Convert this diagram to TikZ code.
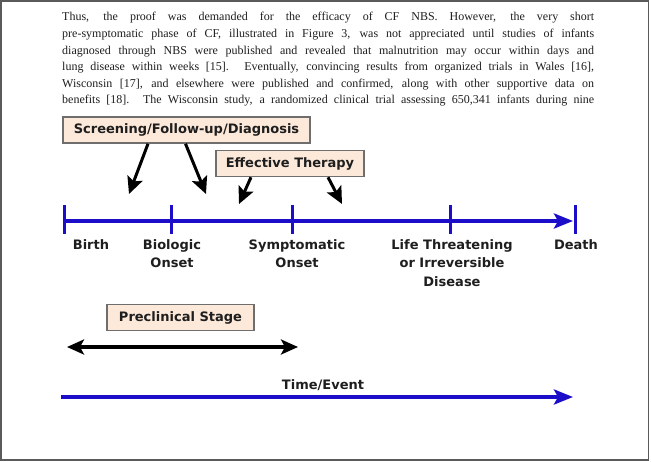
\documentclass[tikz,border=0pt]{standalone}
\usepackage{fontspec}
\setmainfont{Liberation Serif}
\newfontfamily\lblfont{DejaVu Sans}
\usetikzlibrary{arrows.meta}
\definecolor{tlblue}{RGB}{28,14,200}
\definecolor{peach}{RGB}{253,233,217}
\definecolor{boxedge}{RGB}{110,110,110}
\definecolor{txtgray}{RGB}{30,30,30}
\definecolor{framegray}{RGB}{90,90,90}
\begin{document}
\begin{tikzpicture}[x=1pt,y=-1pt,
  labelbox/.style={draw=boxedge, line width=1.5pt, fill=peach, minimum height=26pt, inner sep=0pt,
    font=\lblfont\bfseries\fontsize{13}{15}\selectfont, text=txtgray},
  tllabel/.style={font=\lblfont\bfseries\fontsize{13}{18.5}\selectfont, align=center, anchor=north,
    inner sep=0pt, text=txtgray},
  bodyline/.style={anchor=west, inner sep=0pt, font=\fontsize{12}{14}\selectfont, text=txtgray},
  blackarrow/.style={line width=3pt, -{Stealth[length=17pt,width=16pt,inset=3.5pt]}},
  tick/.style={tlblue, line width=3pt},
  bluearrow/.style={tlblue, line width=4pt, -{Stealth[length=19pt,width=15pt,inset=4pt]}},
  spanarrow/.style={line width=4pt, {Stealth[length=17pt,width=15pt,inset=4pt]}-{Stealth[length=17pt,width=15pt,inset=4pt]}}
]
\useasboundingbox (0,0) rectangle (651,461);
\draw[framegray, line width=1.5pt] (1,1) rectangle (648.5,460);

% body text
\node[bodyline] (t1) at (62,18) {\makebox[532pt][s]{Thus, the proof was demanded for the efficacy of CF NBS. However, the very short}};
\node[bodyline] (t2) at (62,34.6) {\makebox[532pt][s]{pre-symptomatic phase of CF, illustrated in Figure 3, was not appreciated until studies of infants}};
\node[bodyline] (t3) at (62,51.2) {\makebox[532pt][s]{diagnosed through NBS were published and revealed that malnutrition may occur within days and}};
\node[bodyline] (t4) at (62,67.8) {\makebox[532pt][s]{lung disease within weeks [15]. Eventually, convincing results from organized trials in Wales [16],}};
\node[bodyline] (t5) at (62,84.4) {\makebox[532pt][s]{Wisconsin [17], and elsewhere were published and confirmed, along with other supportive data on}};
\node[bodyline] (t6) at (62,101) {\makebox[532pt][s]{benefits [18]. The Wisconsin study, a randomized clinical trial assessing 650,341 infants during nine}};

% boxes
\node[labelbox, minimum width=247pt] (screen) at (186.5,130) {Screening/Follow-up/Diagnosis};
\node[labelbox, minimum width=148pt] (therapy) at (290,163.5) {Effective Therapy};
\node[labelbox, minimum width=147pt] (precl) at (180.5,317.5) {Preclinical Stage};

% arrows from boxes
\coordinate (s1) at (129,194);
\coordinate (s2) at (206,194);
\coordinate (e1) at (239,204);
\coordinate (e2) at (342,204);
\draw[blackarrow] ([xshift=-38.5pt]screen.south) -- (s1);
\draw[blackarrow] ([xshift=-1pt]screen.south) -- (s2);
\draw[blackarrow] ([xshift=-39pt]therapy.south) -- (e1);
\draw[blackarrow] ([xshift=38pt]therapy.south) -- (e2);

% main timeline
\coordinate (tlstart) at (64,221);
\coordinate (tlend) at (573,221);
\coordinate (tk1) at (64,221);
\coordinate (tk2) at (171,221);
\coordinate (tk3) at (292,221);
\coordinate (tk4) at (450,221);
\coordinate (tk5) at (575,221);
\draw[bluearrow] (tlstart) -- (tlend);
\foreach \k in {tk1,tk2,tk3,tk4,tk5}
  \draw[tick] ([yshift=16pt]\k) -- ([yshift=-13pt]\k);

% timeline labels
\node[tllabel] (lbirth) at (91,239) {Birth};
\node[tllabel] (lbio) at (172,239) {Biologic\\Onset};
\node[tllabel] (lsym) at (297,239) {Symptomatic\\Onset};
\node[tllabel] (llife) at (452,239) {Life Threatening\\or Irreversible\\Disease};
\node[tllabel] (ldeath) at (576,239) {Death};

% preclinical span
\coordinate (p1) at (67,347);
\coordinate (p2) at (298,347);
\draw[spanarrow] (p1) -- (p2);

% time/event arrow
\coordinate (ta1) at (61,397);
\coordinate (ta2) at (573,397);
\draw[bluearrow] (ta1) -- (ta2);
\node[tllabel, anchor=center] (ltime) at (323,385) {Time/Event};
\end{tikzpicture}
\end{document}
